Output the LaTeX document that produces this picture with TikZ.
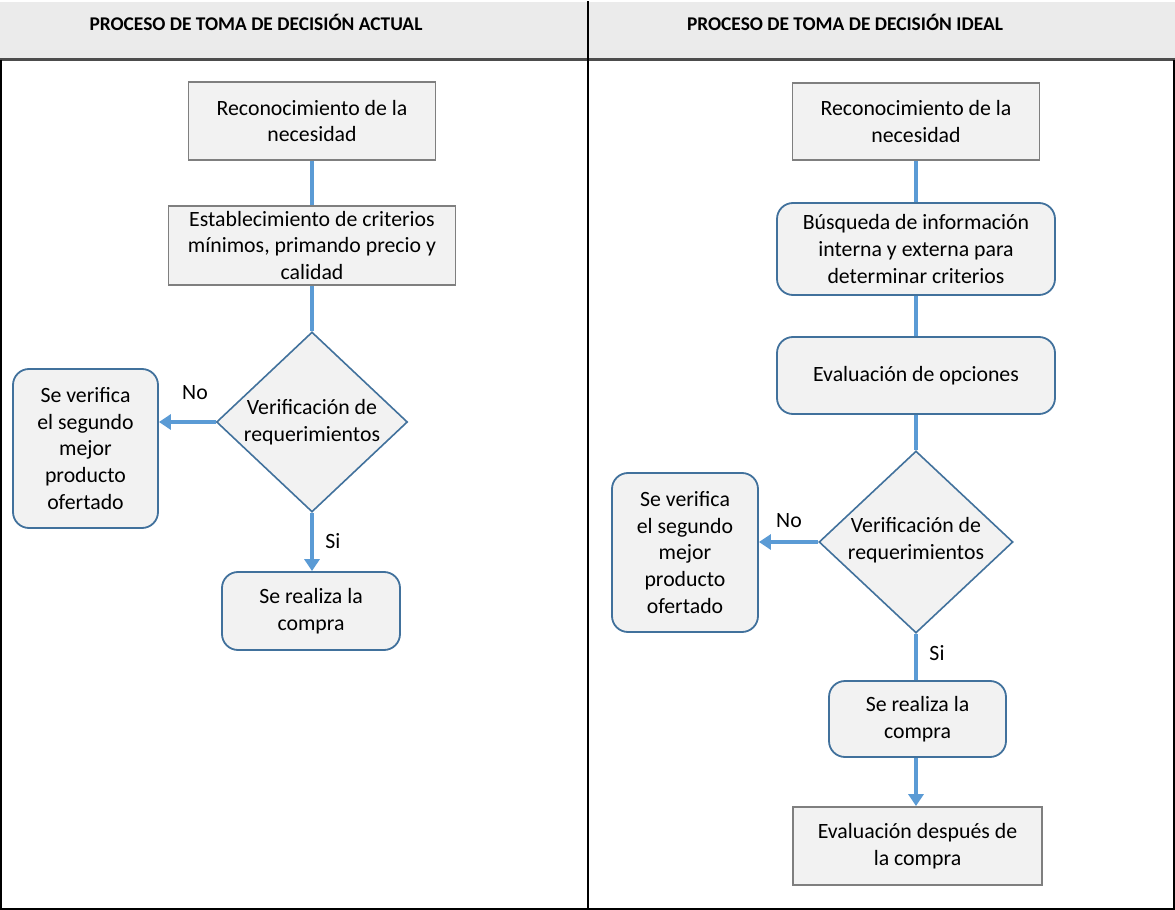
\documentclass[tikz,border=0pt]{standalone}
\usepackage{fontspec}
\setmainfont{Carlito}
\usetikzlibrary{shapes.geometric,arrows.meta}

\definecolor{boxfill}{HTML}{F2F2F2}
\definecolor{grayedge}{HTML}{7F7F7F}
\definecolor{blueedge}{HTML}{41719C}
\definecolor{flow}{HTML}{5B9BD5}
\definecolor{headfill}{HTML}{EBEBEB}

\tikzset{
  every node/.style={font=\fontsize{10.9pt}{13.4pt}\selectfont, align=center, inner sep=0pt},
  plainbox/.style={rectangle, draw=grayedge, fill=boxfill, line width=0.9pt},
  roundbox/.style={rectangle, rounded corners=8pt, draw=blueedge, fill=boxfill, line width=0.9pt},
  decision/.style={diamond, draw=blueedge, fill=boxfill, line width=0.8pt},
  link/.style={draw=flow, line width=2pt},
  arrowlink/.style={link, -{Triangle[length=6pt,width=7.5pt]}},
  frameline/.style={line width=1pt, draw=black},
  headtext/.style={font=\fontsize{9.7pt}{12pt}\selectfont\bfseries},
}

\begin{document}
\begin{tikzpicture}[x=0.5pt, y=-0.5pt]
  \useasboundingbox (0,0) rectangle (1175,910);

  % header band and table frame
  \fill[headfill] (0,2) rectangle (1175,59);
  \draw[line width=1.2pt, draw=black!70] (0,59.5) -- (1175,59.5);
  \draw[frameline] (1,59.5) -- (1,908.5) -- (1174,908.5) -- (1174,59.5);
  \draw[frameline] (588,1) -- (588,910);

  \node[headtext] (hleft)  at (256,22) {PROCESO DE TOMA DE DECISIÓN ACTUAL};
  \node[headtext] (hright) at (845,22) {PROCESO DE TOMA DE DECISIÓN IDEAL};

  % current process
  \node[plainbox, minimum width=123.5pt, minimum height=39pt] (a1) at (312,121)
    {Reconocimiento de la\\necesidad};
  \node[plainbox, minimum width=143.5pt, minimum height=39.5pt] (a2) at (312,245.5)
    {Establecimiento de criterios\\mínimos, primando precio y\\calidad};
  \node[decision, minimum width=95.5pt, minimum height=90pt] (a3) at (312,422) {};
  \node (a3t) at (312,422) {Verificación de\\requerimientos};
  \node[roundbox, minimum width=72.5pt, minimum height=79.5pt] (a4) at (85.5,448.5)
    {Se verifica\\el segundo\\mejor\\producto\\ofertado};
  \node[roundbox, minimum width=89pt, minimum height=39pt] (a5) at (311,611)
    {Se realiza la\\compra};

  \draw[link] (a1.south) -- (a2.north);
  \draw[link] (a2.south) -- (a3.north);
  \draw[arrowlink] (a3.west) -- (a3.west -| a4.east);
  \draw[arrowlink] (a3.south) -- (a5.north -| a3.south);
  \node (ano) at (195,393) {No};
  \node (asi) at (333,541) {Si};

  % ideal process
  \node[plainbox, minimum width=123.5pt, minimum height=38.5pt] (b1) at (916,121.5)
    {Reconocimiento de la\\necesidad};
  \node[roundbox, minimum width=139pt, minimum height=46pt] (b2) at (916,249)
    {Búsqueda de información\\interna y externa para\\determinar criterios};
  \node[roundbox, minimum width=139pt, minimum height=38.5pt] (b3) at (916,375.5)
    {Evaluación de opciones};
  \node[decision, minimum width=97pt, minimum height=91pt] (b4) at (916,542) {};
  \node (b4t) at (916,540) {Verificación de\\requerimientos};
  \node[roundbox, minimum width=73pt, minimum height=79.5pt] (b5) at (685,552.5)
    {Se verifica\\el segundo\\mejor\\producto\\ofertado};
  \node[roundbox, minimum width=88.5pt, minimum height=38pt] (b6) at (917.5,719)
    {Se realiza la\\compra};
  \node[plainbox, minimum width=124.5pt, minimum height=39pt] (b7) at (917.5,846)
    {Evaluación después de\\la compra};

  \draw[link] (b1.south) -- (b2.north);
  \draw[link] (b2.south) -- (b3.north);
  \draw[link] (b3.south) -- (b4.north);
  \draw[arrowlink] (b4.west) -- (b4.west -| b5.east);
  \draw[link] (b4.south) -- (b6.north -| b4.south);
  \draw[arrowlink] (b6.south -| b4.south) -- (b7.north -| b4.south);
  \node (bno) at (789,521) {No};
  \node (bsi) at (937,653) {Si};
\end{tikzpicture}
\end{document}
